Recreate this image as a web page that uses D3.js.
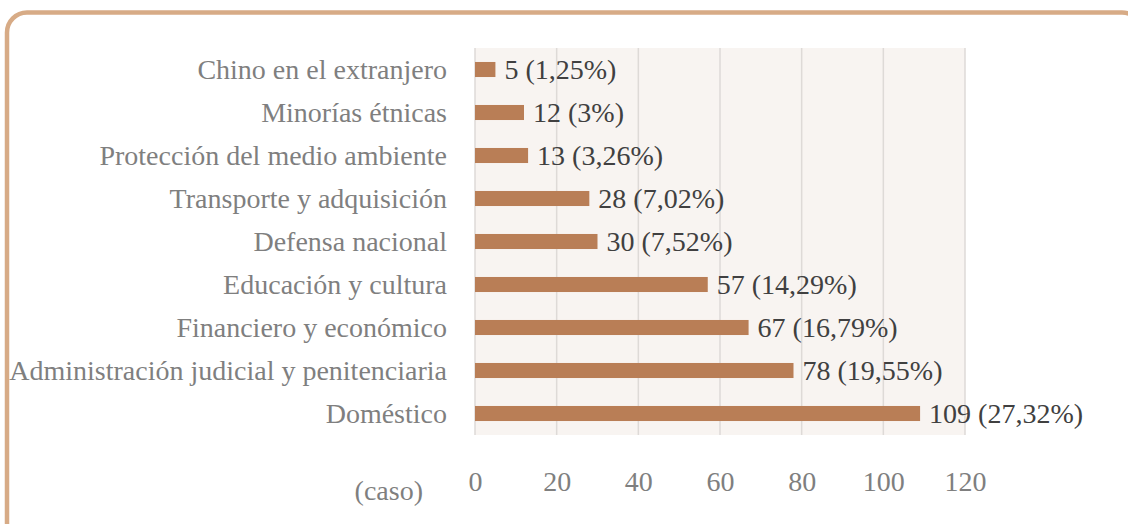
<!DOCTYPE html>
<html>
<head>
<meta charset="utf-8">
<script src="https://cdn.jsdelivr.net/npm/d3@7"></script>
<style>
  html, body { margin: 0; padding: 0; background: #fff; }
  svg { display: block; }
</style>
</head>
<body>
<div id="chart"></div>
<script>
const categories = [
  "Chino en el extranjero",
  "Minorías étnicas",
  "Protección del medio ambiente",
  "Transporte y adquisición",
  "Defensa nacional",
  "Educación y cultura",
  "Financiero y económico",
  "Administración judicial y penitenciaria",
  "Doméstico"
];
const values = [5, 12, 13, 28, 30, 57, 67, 78, 109];
const percents = ["1,25%", "3%", "3,26%", "7,02%", "7,52%", "14,29%", "16,79%", "19,55%", "27,32%"];
const xTicks = [0, 20, 40, 60, 80, 100, 120];
const unitLabel = "(caso)";

(() => {
  const width = 1128, height = 524;
  const font = "'Liberation Serif', 'Times New Roman', serif";
  const fs = 28;

  const svg = d3.select("#chart").append("svg")
    .attr("width", width)
    .attr("height", height);

  // frame
  svg.append("rect")
    .attr("x", 7).attr("y", 12.5)
    .attr("width", 1135).attr("height", 530)
    .attr("rx", 20).attr("ry", 20)
    .attr("fill", "none")
    .attr("stroke", "#d7ab86")
    .attr("stroke-width", 4.5);

  const plot = { left: 475, right: 965, top: 48, bottom: 435 };

  const x = d3.scaleLinear().domain([0, 120]).range([plot.left, plot.right]);
  const y = d3.scaleBand().domain(categories)
    .range([plot.top, plot.bottom])
    .paddingInner(0.65).paddingOuter(0.325);

  // plot background
  svg.append("rect")
    .attr("x", plot.left).attr("y", plot.top)
    .attr("width", plot.right - plot.left)
    .attr("height", plot.bottom - plot.top)
    .attr("fill", "#f8f4f1");

  // grid
  svg.append("g")
    .selectAll("line")
    .data(xTicks)
    .join("line")
    .attr("x1", d => x(d)).attr("x2", d => x(d))
    .attr("y1", plot.top).attr("y2", plot.bottom)
    .attr("stroke", "#dedad7")
    .attr("stroke-width", 1.5);

  // bars
  svg.append("g")
    .selectAll("rect")
    .data(values)
    .join("rect")
    .attr("x", x(0))
    .attr("y", (d, i) => y(categories[i]))
    .attr("width", d => x(d) - x(0))
    .attr("height", y.bandwidth())
    .attr("fill", "#b97e56");

  // value labels
  svg.append("g")
    .selectAll("text")
    .data(values)
    .join("text")
    .attr("x", d => x(d) + 9)
    .attr("y", (d, i) => y(categories[i]) + y.bandwidth() / 2)
    .attr("dy", "0.35em")
    .attr("font-family", font)
    .attr("font-size", fs)
    .attr("fill", "#404040")
    .text((d, i) => `${d} (${percents[i]})`);

  // category labels
  svg.append("g")
    .selectAll("text")
    .data(categories)
    .join("text")
    .attr("x", 447)
    .attr("y", d => y(d) + y.bandwidth() / 2)
    .attr("dy", "0.35em")
    .attr("text-anchor", "end")
    .attr("font-family", font)
    .attr("font-size", fs)
    .attr("fill", "#7f7f7f")
    .text(d => d);

  // x axis
  const ax = svg.append("g")
    .attr("transform", `translate(0,${plot.bottom})`)
    .call(d3.axisBottom(x).tickValues(xTicks).tickSize(0).tickPadding(36));
  ax.select(".domain").remove();
  ax.selectAll("text")
    .attr("font-family", font)
    .attr("font-size", fs)
    .attr("fill", "#7f7f7f");

  svg.append("text")
    .attr("x", 423)
    .attr("y", 490)
    .attr("dy", "0.35em")
    .attr("text-anchor", "end")
    .attr("font-family", font)
    .attr("font-size", fs)
    .attr("fill", "#7f7f7f")
    .text(unitLabel);
})();
</script>
</body>
</html>
